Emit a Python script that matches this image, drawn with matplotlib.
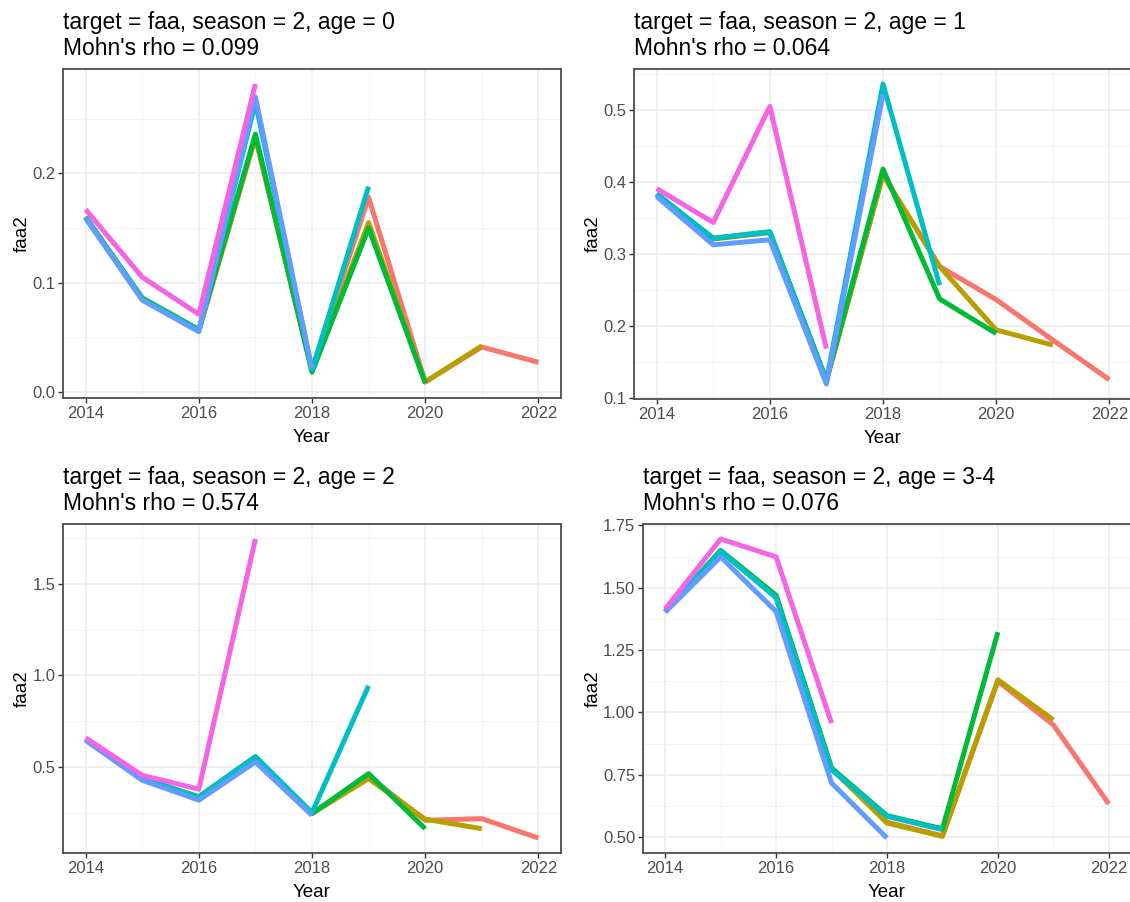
import matplotlib
matplotlib.use("Agg")
import matplotlib.pyplot as plt
from matplotlib.ticker import MultipleLocator, FormatStrFormatter

plt.rcParams['font.family'] = ['Liberation Sans', 'DejaVu Sans']

# ---------------- data ----------------
years = [2014, 2015, 2016, 2017, 2018, 2019, 2020, 2021, 2022]
peel_colors = ["#F8766D", "#B79F00", "#00BA38", "#00BFC4", "#619CFF", "#F564E3"]

titles = [
    "target = faa, season = 2, age = 0\nMohn's rho = 0.099",
    "target = faa, season = 2, age = 1\nMohn's rho = 0.064",
    "target = faa, season = 2, age = 2\nMohn's rho = 0.574",
    "target = faa, season = 2, age = 3-4\nMohn's rho = 0.076",
]

# each list: one retrospective peel, values from 2014 onward
age0 = [
    [0.160, 0.085, 0.056, 0.233, 0.020, 0.178, 0.009, 0.041, 0.027],
    [0.160, 0.085, 0.056, 0.234, 0.019, 0.155, 0.009, 0.042],
    [0.160, 0.086, 0.057, 0.236, 0.018, 0.150, 0.008],
    [0.160, 0.085, 0.056, 0.265, 0.020, 0.188],
    [0.159, 0.084, 0.055, 0.270, 0.021],
    [0.167, 0.105, 0.071, 0.282],
]
age1 = [
    [0.383, 0.322, 0.330, 0.125, 0.410, 0.283, 0.237, 0.181, 0.126],
    [0.383, 0.321, 0.330, 0.125, 0.410, 0.283, 0.195, 0.174],
    [0.383, 0.322, 0.331, 0.125, 0.418, 0.238, 0.190],
    [0.384, 0.322, 0.331, 0.124, 0.536, 0.257],
    [0.380, 0.313, 0.320, 0.120, 0.522],
    [0.391, 0.344, 0.505, 0.169],
]
age2 = [
    [0.650, 0.435, 0.335, 0.553, 0.245, 0.450, 0.208, 0.217, 0.111],
    [0.650, 0.435, 0.335, 0.553, 0.245, 0.436, 0.214, 0.162],
    [0.650, 0.435, 0.336, 0.555, 0.245, 0.463, 0.162],
    [0.650, 0.435, 0.336, 0.556, 0.250, 0.943],
    [0.645, 0.427, 0.318, 0.527, 0.235],
    [0.659, 0.454, 0.378, 1.746],
]
age34 = [
    [1.405, 1.648, 1.465, 0.775, 0.560, 0.505, 1.125, 0.950, 0.633],
    [1.405, 1.648, 1.465, 0.775, 0.556, 0.503, 1.131, 0.970],
    [1.405, 1.650, 1.470, 0.777, 0.586, 0.533, 1.322],
    [1.405, 1.647, 1.460, 0.770, 0.583, 0.530],
    [1.402, 1.624, 1.405, 0.717, 0.496],
    [1.415, 1.696, 1.624, 0.957],
]
panels = [age0, age1, age2, age34]
y_major = [0.1, 0.1, 0.5, 0.25]
y_fmt = ["%.1f", "%.1f", "%.1f", "%.2f"]

# ---------------- layout (pixels, top-left origin) ----------------
W, H = 1130, 902
boxes = [(63, 69, 561, 398), (634, 69, 1132, 399),
         (63, 524, 561, 853), (643, 524, 1131, 853)]

fig = plt.figure(figsize=(W / 100, H / 100), dpi=100)
fig.patch.set_facecolor("white")

for i, data in enumerate(panels):
    x0, y0, x1, y1 = boxes[i]
    ax = fig.add_axes([x0 / W, 1 - y1 / H, (x1 - x0) / W, (y1 - y0) / H])
    for k, series in enumerate(data):
        ax.plot(years[:len(series)], series, color=peel_colors[k], lw=3.6,
                solid_capstyle="butt", solid_joinstyle="round", zorder=3 + k)
    ax.set_xlim(2013.6, 2022.4)
    ax.margins(y=0.05)
    ax.xaxis.set_major_locator(MultipleLocator(2))
    ax.xaxis.set_minor_locator(MultipleLocator(1))
    ax.yaxis.set_major_locator(MultipleLocator(y_major[i]))
    ax.yaxis.set_minor_locator(MultipleLocator(y_major[i] / 2))
    ax.yaxis.set_major_formatter(FormatStrFormatter(y_fmt[i]))
    ax.xaxis.set_major_formatter(FormatStrFormatter("%d"))
    ax.grid(which="major", color="#EBEBEB", lw=1.1, zorder=0)
    ax.grid(which="minor", color="#F2F2F2", lw=0.6, zorder=0)
    ax.set_axisbelow(True)
    for sp in ax.spines.values():
        sp.set_color("#4D4D4D")
        sp.set_linewidth(1.3)
    ax.tick_params(which="major", length=3.5, width=1.0, color="#333333",
                   labelsize=12, labelcolor="#4D4D4D", pad=2)
    ax.tick_params(which="minor", length=0)
    ax.set_xlabel("Year", fontsize=13.5, labelpad=6)
    ax.set_ylabel("faa2", fontsize=13.5, labelpad=1)
    ax.set_title(titles[i], loc="left", fontsize=16.5, pad=10, linespacing=1.2)

fig.savefig("out.png", dpi=100)
